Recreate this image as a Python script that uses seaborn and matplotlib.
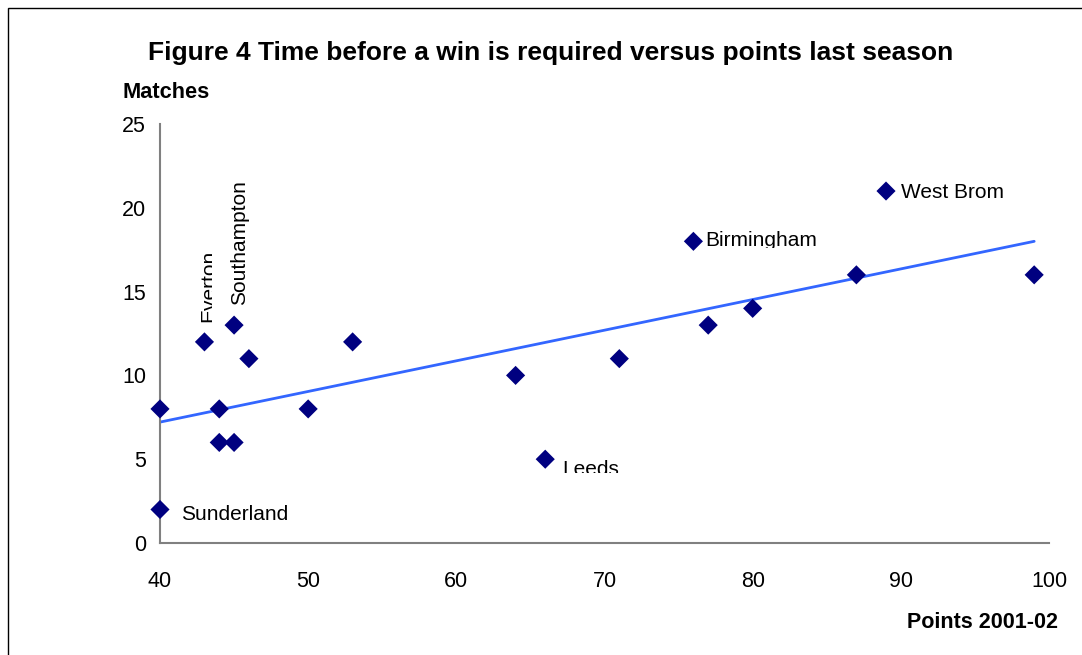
import numpy as np
import pandas as pd
import matplotlib
matplotlib.use("Agg")
import matplotlib.pyplot as plt
from matplotlib.patches import Rectangle
from matplotlib.transforms import IdentityTransform
import seaborn as sns

# data
points = [40, 40, 43, 44, 44, 45, 45, 46, 50, 53, 64, 66, 71, 76, 77, 80, 87, 89, 99]
matches = [8, 2, 12, 8, 6, 13, 6, 11, 8, 12, 10, 5, 11, 18, 13, 14, 16, 21, 16]
teams = ["", "Sunderland", "Everton", "", "", "Southampton", "", "", "", "",
         "", "Leeds", "", "Birmingham", "", "", "", "West Brom", ""]

df = pd.DataFrame({"points": points, "matches": matches, "team": teams})

sns.set_style("white")
plt.rcParams["font.family"] = ["Liberation Sans", "DejaVu Sans"]
plt.rcParams["text.color"] = "black"

W, H = 1082, 655
fig = plt.figure(figsize=(W / 100, H / 100), dpi=100)
ax = fig.add_axes([160 / W, 1 - 543 / H, (1049 - 160) / W, (543 - 124) / H])

# trend line
sns.regplot(data=df, x="points", y="matches", scatter=False, ci=None,
            color="#3366ff", line_kws={"lw": 2}, ax=ax)
sns.scatterplot(data=df, x="points", y="matches", marker="D", s=95,
                color="#000080", edgecolor="none", ax=ax, zorder=3, clip_on=False)

ax.set_xlim(40, 100)
ax.set_ylim(0, 25)
ax.set_xticks(range(40, 101, 10))
ax.set_yticks(range(0, 26, 5))
ax.set_xlabel("")
ax.set_ylabel("")
for s in ["top", "right"]:
    ax.spines[s].set_visible(False)
for s in ["left", "bottom"]:
    ax.spines[s].set_color("#808080")
    ax.spines[s].set_linewidth(1.5)
ax.tick_params(axis="both", direction="out", length=5, width=1, color="#808080",
               labelsize=15.5, labelcolor="black")
ax.tick_params(axis="x", pad=15)
ax.tick_params(axis="y", pad=5)


def clip_px(t, x0, y0, x1, y1):
    # clip a label to a pixel box (top-left origin), like the original export
    r = Rectangle((x0, H - y1), x1 - x0, y1 - y0, transform=IdentityTransform())
    t.set_clip_path(r)


lab = dict(fontsize=15, color="black", va="center")
ax.annotate("Sunderland", (40, 2), xytext=(21, -5), textcoords="offset pixels", **lab)
t = ax.annotate("Leeds", (66, 5), xytext=(17, -10), textcoords="offset pixels", **lab)
clip_px(t, 500, 440, 700, 473)
t = ax.annotate("Birmingham", (76, 18), xytext=(12, 1), textcoords="offset pixels", **lab)
clip_px(t, 650, 200, 900, 248)
ax.annotate("West Brom", (89, 21), xytext=(15, -1), textcoords="offset pixels", **lab)
t = ax.annotate("Everton", (43, 12), xytext=(4, 20), textcoords="offset pixels",
                rotation=90, ha="center", va="bottom", fontsize=15)
clip_px(t, 180, 200, 212, 340)
ax.annotate("Southampton", (45, 13), xytext=(5, 20), textcoords="offset pixels",
            rotation=90, ha="center", va="bottom", fontsize=15)

fig.text(551 / W, 1 - 53 / H, "Figure 4 Time before a win is required versus points last season",
         ha="center", va="center", fontsize=19, fontweight="bold")
fig.text(122 / W, 1 - 92 / H, "Matches", ha="left", va="center", fontsize=15.7, fontweight="bold")
fig.text(1058 / W, 1 - 622 / H, "Points 2001-02", ha="right", va="center", fontsize=15.5,
         fontweight="bold")

# outer frame of the chart area (runs off the right and bottom edges)
fig.add_artist(Rectangle((8 / W, -0.1), 1.2, 1 - 8 / H + 0.1, transform=fig.transFigure,
                         fill=False, edgecolor="black", lw=1))

fig.savefig("out.png", dpi=100)
